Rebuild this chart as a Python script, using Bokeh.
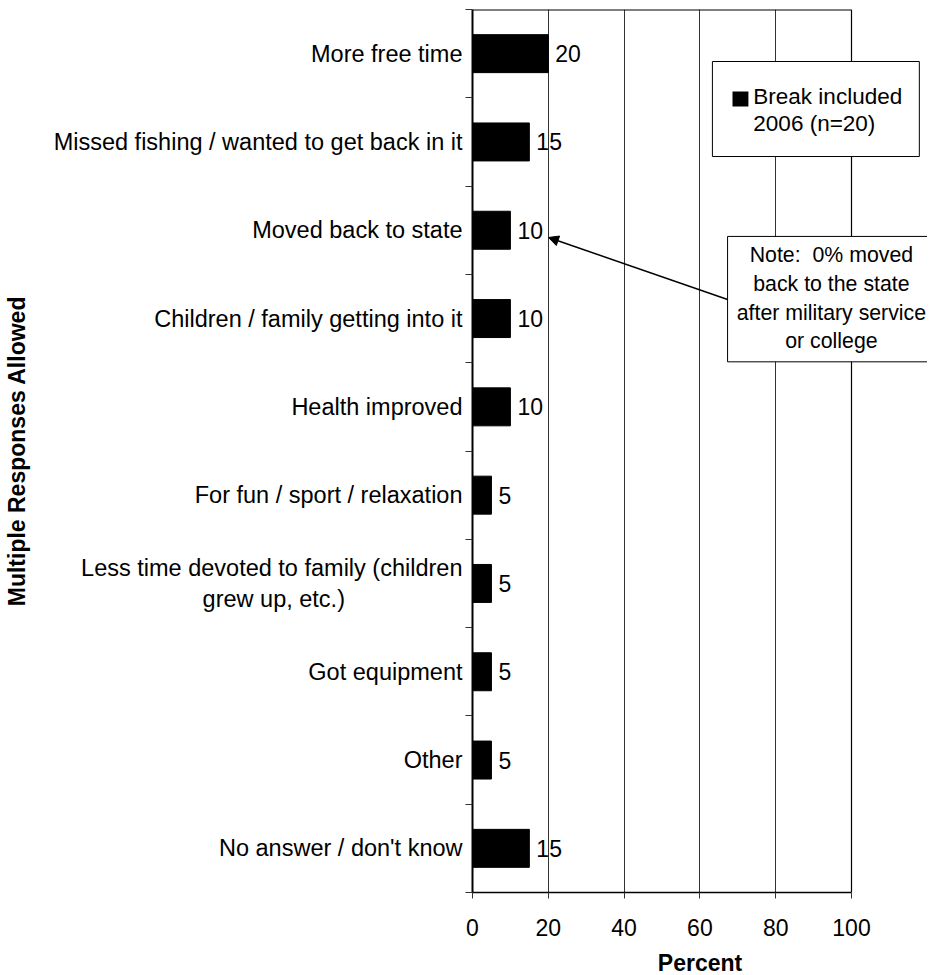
from bokeh.plotting import figure
from bokeh.models import Range1d, FixedTicker, BoxAnnotation, Label, Arrow, NormalHead, Span
from bokeh.embed import file_html
from bokeh.resources import INLINE
from bokeh.core.properties import value

NB = "\u00a0"
categories = [
    "More free time",
    "Missed fishing / wanted to get back in it",
    "Moved back to state",
    "Children / family getting into it",
    "Health improved",
    "For fun / sport / relaxation",
    "Less time devoted to family (children\ngrew up, etc.)" + NB * 18,
    "Got equipment",
    "Other",
    "No answer / don't know",
]
values = [20, 15, 10, 10, 10, 5, 5, 5, 5, 15]
x_ticks = [0, 20, 40, 60, 80, 100]
series_name = "Break included\n2006 (n=20)"
note_text = "Note:" + NB + " 0% moved\nback to the state\nafter military service\nor college"
x_title = "Percent"
y_title = "Multiple Responses Allowed"

FONT = "Liberation Sans"
FS = "23px"

n = len(categories)
pos = [i + 0.5 for i in range(n)]

FRAME_W = 455
X_END = FRAME_W / 3.79

p = figure(
    frame_width=FRAME_W, frame_height=883,
    x_range=Range1d(0, X_END), y_range=Range1d(n, 0),
    output_backend="svg", toolbar_location=None,
    min_border_left=472, min_border_right=0, min_border_top=9, min_border_bottom=60,
)
p.background_fill_color = "white"
p.border_fill_color = "white"
p.outline_line_color = None

p.xgrid.ticker = FixedTicker(ticks=x_ticks[1:-1])
p.xgrid.grid_line_color = "#333333"
p.xgrid.grid_line_width = 1
p.ygrid.visible = False

p.hbar(y=pos, left=0, right=values, height=0.43, fill_color="black", line_color="black")
p.text(x=values, y=pos, text=[str(v) for v in values], x_offset=7,
       text_align="left", text_baseline="middle",
       text_font=value(FONT), text_font_size=FS, text_color="black")

# plot-area border (top and right)
p.segment(x0=[0], y0=[0], x1=[x_ticks[-1]], y1=[0], line_color="black", line_width=2)
p.add_layout(Span(location=x_ticks[-1], dimension="height", line_color="black", line_width=1.2))

# x axis
xa = p.xaxis[0]
xa.ticker = FixedTicker(ticks=x_ticks)
xa.bounds = (x_ticks[0], x_ticks[-1])
xa.major_tick_out = 6
xa.major_tick_in = 0
xa.minor_tick_out = 0
xa.major_tick_line_color = "#333333"
xa.axis_line_color = "black"
xa.axis_line_width = 1.5
xa.major_label_standoff = 20
xa.major_label_text_font = FONT
xa.major_label_text_font_size = FS
xa.major_label_text_color = "black"
xa.axis_label = x_title
xa.axis_label_text_font = FONT
xa.axis_label_text_font_size = FS
xa.axis_label_text_font_style = "bold"
xa.axis_label_text_color = "black"
xa.axis_label_standoff = 11

# y axis
ya = p.yaxis[0]
ya.ticker = FixedTicker(ticks=pos, minor_ticks=list(range(n + 1)))
ya.major_label_overrides = {pos[i]: categories[i] for i in range(n)}
ya.major_tick_out = 0
ya.major_tick_in = 0
ya.minor_tick_out = 7
ya.minor_tick_in = 0
ya.minor_tick_line_color = "#333333"
ya.axis_line_color = "black"
ya.axis_line_width = 2
ya.major_label_standoff = 3
ya.major_label_text_font = FONT
ya.major_label_text_font_size = "23.5px"
ya.major_label_text_color = "black"
ya.axis_label = y_title
ya.axis_label_text_font = FONT
ya.axis_label_text_font_size = FS
ya.axis_label_text_font_style = "bold"
ya.axis_label_text_color = "black"
ya.axis_label_standoff = 21

# legend box
p.add_layout(BoxAnnotation(left=63.3, right=117.9, top=0.589, bottom=1.665,
                           fill_color="white", fill_alpha=1, line_color="black", line_width=1, line_alpha=1))
p.add_layout(BoxAnnotation(left=68.6, right=72.8, top=0.929, bottom=1.099,
                           fill_color="black", fill_alpha=1, line_color=None))
p.add_layout(Label(x=74.1, y=1.138, text=series_name, text_align="left", text_baseline="middle",
                   text_font=FONT, text_font_size="22.5px", text_color="black", text_line_height=1.1))

# note with arrow
p.add_layout(Arrow(x_start=67.3, y_start=3.284, x_end=20.05, y_end=2.582,
                   line_color="black", line_width=1.5,
                   end=NormalHead(size=10, fill_color="black", line_color="black")))
p.add_layout(BoxAnnotation(left=67.3, right=130, top=2.57, bottom=3.99,
                           fill_color="white", fill_alpha=1, line_color="black", line_width=1, line_alpha=1))
p.add_layout(Label(x=94.7, y=3.27, text=note_text, text_align="center", text_baseline="middle",
                   text_font=FONT, text_font_size="21.3px", text_color="black", text_line_height=1.2))

open("out.html", "w").write(file_html(p, INLINE))
